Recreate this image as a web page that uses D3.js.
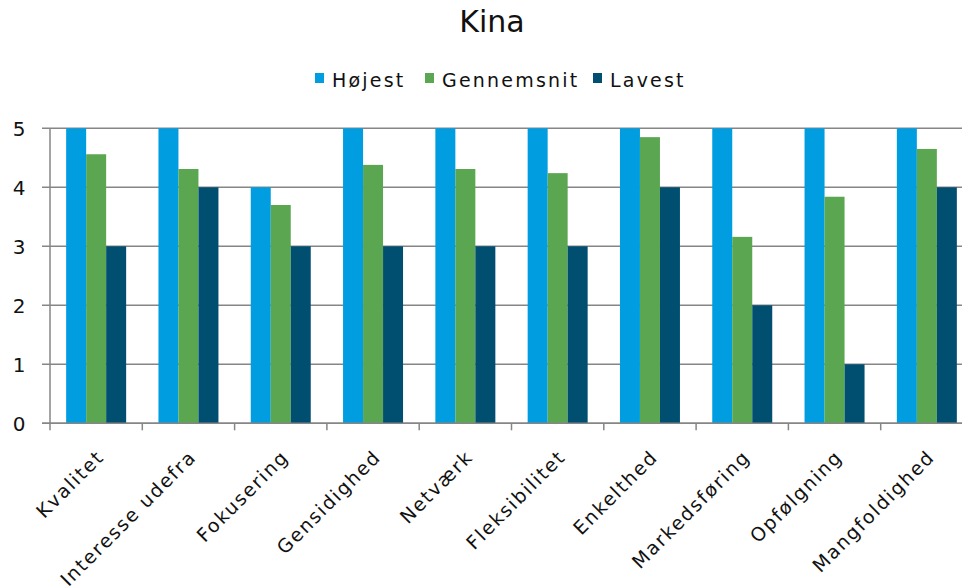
<!DOCTYPE html>
<html>
<head>
<meta charset="utf-8">
<script src="https://cdn.jsdelivr.net/npm/d3@7"></script>
<style>
  html, body { margin: 0; padding: 0; background: #fff; }
  svg { display: block; }
  text { font-family: "DejaVu Sans", Verdana, sans-serif; fill: #111; }
</style>
</head>
<body>
<svg id="chart" width="962" height="588"></svg>
<script>
// Kina – scores per area: highest, average and lowest
const categories = ["Kvalitet", "Interesse udefra", "Fokusering", "Gensidighed", "Netværk",
                    "Fleksibilitet", "Enkelthed", "Markedsføring", "Opfølgning", "Mangfoldighed"];
const hojest      = [5, 5, 4, 5, 5, 5, 5, 5, 5, 5];
const gennemsnit  = [4.56, 4.31, 3.70, 4.38, 4.31, 4.24, 4.85, 3.16, 3.84, 4.65];
const lavest      = [3, 4, 3, 3, 3, 3, 4, 2, 1, 4];
const seriesNames = ["Højest", "Gennemsnit", "Lavest"];
const seriesColors = ["#009ee0", "#5ba650", "#004f71"];
const yTicks = [0, 1, 2, 3, 4, 5];

const seriesValues = [hojest, gennemsnit, lavest];
const svg = d3.select("#chart");

const plot = { left: 50, right: 973, top: 128.3, bottom: 423.3 };

const x0 = d3.scaleBand().domain(categories)
  .range([plot.left, plot.right]).paddingInner(0.35).paddingOuter(0.175);
const x1 = d3.scaleBand().domain(seriesNames).range([0, x0.bandwidth()]);
const y = d3.scaleLinear().domain([0, 5]).range([plot.bottom, plot.top]);
const catStep = x0.step();

// Title
svg.append("text").attr("x", 492).attr("y", 32).attr("text-anchor", "middle")
  .style("font-size", "30px").text("Kina");

// Horizontal gridlines
svg.append("g").selectAll("line").data(yTicks).join("line")
  .attr("x1", plot.left - 8).attr("x2", 962)
  .attr("y1", d => y(d)).attr("y2", d => y(d))
  .attr("stroke", "#868686").attr("stroke-width", 1.5);

// Vertical axis line
svg.append("line").attr("x1", plot.left).attr("x2", plot.left)
  .attr("y1", y(5)).attr("y2", y(0)).attr("stroke", "#868686").attr("stroke-width", 1.5);

// Y tick labels
svg.append("g").selectAll("text").data(yTicks).join("text")
  .attr("x", 19).attr("y", d => y(d) + 7.5).attr("text-anchor", "middle")
  .style("font-size", "20px").text(d => d);

// Category tick marks on the baseline
const tickXs = d3.range(categories.length + 1).map(i => plot.left + i * catStep);
svg.append("g").selectAll("line").data(tickXs).join("line")
  .attr("x1", d => d).attr("x2", d => d)
  .attr("y1", y(0)).attr("y2", y(0) + 7)
  .attr("stroke", "#868686").attr("stroke-width", 1.5);

// Bars
const groups = svg.append("g").selectAll("g").data(categories).join("g")
  .attr("transform", d => `translate(${x0(d)},0)`);
groups.selectAll("rect")
  .data((c, i) => seriesNames.map((s, k) => ({ s, k, v: seriesValues[k][i] })))
  .join("rect")
  .attr("x", d => x1(d.s)).attr("width", x1.bandwidth())
  .attr("y", d => y(d.v)).attr("height", d => y(0) - y(d.v))
  .attr("fill", d => seriesColors[d.k]);

// Baseline drawn over the bars
svg.append("line").attr("x1", plot.left - 8).attr("x2", 962)
  .attr("y1", y(0)).attr("y2", y(0)).attr("stroke", "#868686").attr("stroke-width", 1.5);

// Rotated category labels
svg.append("g").selectAll("text").data(categories).join("text")
  .attr("transform", d => `translate(${x0(d) + x0.bandwidth() / 2 + 9},${y(0) + 35}) rotate(-45)`)
  .attr("text-anchor", "end")
  .style("font-size", "19px").style("letter-spacing", "1.7px").text(d => d);

// Legend
const legendX = [315, 425, 593];
const legend = svg.append("g").selectAll("g").data(seriesNames).join("g")
  .attr("transform", (d, i) => `translate(${legendX[i]},0)`);
legend.append("rect").attr("x", 0).attr("y", 73).attr("width", 9).attr("height", 10)
  .attr("fill", (d, i) => seriesColors[i]);
legend.append("text").attr("x", 17).attr("y", 86.5).style("font-size", "19px")
  .style("letter-spacing", "2.2px").text(d => d);
</script>
</body>
</html>
